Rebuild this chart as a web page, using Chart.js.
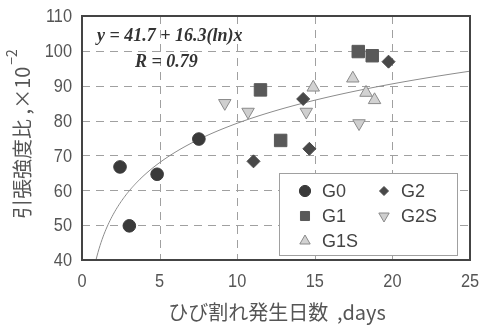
<!DOCTYPE html>
<html>
<head>
<meta charset="utf-8">
<script src="https://cdn.jsdelivr.net/npm/chart.js@4.4.0/dist/chart.umd.min.js"></script>
<style>
  html, body { margin: 0; padding: 0; background: #fff; }
  #wrap { width: 492px; height: 325px; }
</style>
</head>
<body>
<div id="wrap"><canvas id="myChart"></canvas></div>
<script>
// data
const g0X = [2.45, 3.05, 4.84, 7.53];
const g0Y = [66.7, 49.8, 64.6, 74.7];
const g1X = [11.5, 12.8, 17.8, 18.7];
const g1Y = [88.8, 74.3, 99.8, 98.6];
const g1sX = [14.9, 17.45, 18.3, 18.85];
const g1sY = [89.5, 92.1, 88.0, 85.9];
const g2X = [11.05, 14.25, 14.65, 19.75];
const g2Y = [68.3, 86.2, 71.9, 96.9];
const g2sX = [9.2, 10.7, 14.45, 17.85];
const g2sY = [85.0, 82.5, 82.5, 79.2];

// regression shown on the chart: y = a + b ln x
const fitA = 41.7;
const fitB = 16.3;

const xTicks = [0, 5, 10, 15, 20, 25];
const yTicks = [40, 50, 60, 70, 80, 90, 100, 110];

const toPts = (xs, ys) => xs.map((x, i) => ({ x: x, y: ys[i] }));

const data = {
  datasets: [
    { label: "G0", data: toPts(g0X, g0Y), pointStyle: "circle", pointRadius: 6.3, backgroundColor: "#3a3a3a", borderColor: "#3a3a3a", borderWidth: 1 },
    { label: "G1", data: toPts(g1X, g1Y), pointStyle: "rect", pointRadius: 8.8, backgroundColor: "#595959", borderColor: "#595959", borderWidth: 1 },
    { label: "G1S", data: toPts(g1sX, g1sY), pointStyle: "triangle", pointRadius: 7.2, backgroundColor: "#d2d2d2", borderColor: "#8a8a8a", borderWidth: 1 },
    { label: "G2", data: toPts(g2X, g2Y), pointStyle: "rectRot", pointRadius: 6.5, backgroundColor: "#484848", borderColor: "#484848", borderWidth: 1 },
    { label: "G2S", data: toPts(g2sX, g2sY), pointStyle: "triangle", rotation: 180, pointRadius: 7.2, backgroundColor: "#cfcfcf", borderColor: "#8a8a8a", borderWidth: 1 },
  ],
};

// narrow tick text, like the original's condensed digits
function narrowText(ctx, txt, x, y, align) {
  const sx = 0.86;
  const w = ctx.measureText(txt).width * sx;
  let left = x;
  if (align === "right") left = x - w;
  else if (align === "center") left = x - w / 2;
  ctx.save();
  ctx.translate(left, y);
  ctx.scale(sx, 1);
  ctx.textAlign = "left";
  ctx.fillText(txt, 0, 0);
  ctx.restore();
}

// grid, fit curve, frame, ticks, text and legend
const extras = {
  id: "extras",
  beforeDatasetsDraw(chart) {
    const ctx = chart.ctx;
    const xs = chart.scales.x, ys = chart.scales.y;
    const a = chart.chartArea;
    ctx.save();
    // dashed grid
    ctx.strokeStyle = "#a0a0a0";
    ctx.lineWidth = 1;
    ctx.setLineDash([8, 6]);
    xTicks.slice(1, -1).forEach((v) => {
      const px = Math.round(xs.getPixelForValue(v)) + 0.5;
      ctx.beginPath();
      ctx.moveTo(px, a.top);
      ctx.lineTo(px, a.bottom);
      ctx.stroke();
    });
    yTicks.slice(1, -1).forEach((v) => {
      const py = Math.round(ys.getPixelForValue(v)) + 0.5;
      ctx.beginPath();
      ctx.moveTo(a.left, py);
      ctx.lineTo(a.right, py);
      ctx.stroke();
    });
    ctx.setLineDash([]);

    // tick labels
    ctx.fillStyle = "#555";
    ctx.font = "19px 'Liberation Sans', Arial, sans-serif";
    ctx.textBaseline = "middle";
    yTicks.forEach((v) => narrowText(ctx, String(v), 72, ys.getPixelForValue(v) + 1, "right"));
    xTicks.forEach((v) => narrowText(ctx, String(v), xs.getPixelForValue(v), 282, "center"));

    ctx.beginPath();
    ctx.rect(a.left, a.top, a.right - a.left, a.bottom - a.top);
    ctx.clip();
    ctx.strokeStyle = "#8c8c8c";
    ctx.beginPath();
    let first = true;
    for (let px = a.left; px <= a.right; px += 1) {
      const xv = xs.getValueForPixel(px);
      if (xv <= 0) continue;
      const yv = fitA + fitB * Math.log(xv);
      const py = ys.getPixelForValue(yv);
      if (first) { ctx.moveTo(px, py); first = false; } else ctx.lineTo(px, py);
    }
    ctx.stroke();
    ctx.restore();

    ctx.save();
    ctx.strokeStyle = "#444";
    ctx.lineWidth = 2;
    ctx.strokeRect(a.left, a.top, a.right - a.left, a.bottom - a.top);
    ctx.restore();
  },
  afterDatasetsDraw(chart) {
    const ctx = chart.ctx;
    ctx.save();
    // equation
    ctx.fillStyle = "#333";
    ctx.font = "italic bold 18px 'Liberation Serif', serif";
    ctx.textBaseline = "middle";
    ctx.textAlign = "left";
    ctx.fillText("y = 41.7 + 16.3(ln)x", 97, 36);
    ctx.fillText("R = 0.79", 135, 62);

    // legend
    ctx.fillStyle = "#fff";
    ctx.fillRect(279, 173, 178, 82);
    ctx.strokeStyle = "#a0a0a0";
    ctx.lineWidth = 1;
    ctx.strokeRect(279.5, 173.5, 178, 82);
    const spots = [
      [0, 305, 191, 5.6], [1, 305, 216, 6.4], [2, 305, 241, 6],
      [3, 384, 191, 4.5], [4, 384, 216, 6],
    ];
    ctx.font = "18px 'Liberation Sans', Arial, sans-serif";
    spots.forEach(([di, px, py, r]) => {
      const ds = chart.data.datasets[di];
      ctx.fillStyle = ds.backgroundColor;
      ctx.strokeStyle = ds.borderColor;
      ctx.lineWidth = 1;
      Chart.helpers.drawPoint(ctx, { pointStyle: ds.pointStyle, rotation: ds.rotation || 0, radius: r, borderWidth: 1 }, px, py);
      ctx.fillStyle = "#444";
      ctx.fillText(ds.label, px + 17, py + 1);
    });

    // axis titles
    ctx.fillStyle = "#555";
    ctx.textAlign = "center";
    ctx.font = "20px 'Noto Sans CJK JP', sans-serif";
    ctx.fillText("ひび割れ発生日数  ,days", 277, 312);

    ctx.translate(22, 135);
    ctx.rotate(-Math.PI / 2);
    ctx.textAlign = "left";
    const main = "引張強度比 ,×10";
    const w = ctx.measureText(main).width;
    ctx.font = "14px 'Noto Sans CJK JP', sans-serif";
    const sup = "−2";
    const ws = ctx.measureText(sup).width;
    const start = -(w + ws) / 2;
    ctx.font = "20px 'Noto Sans CJK JP', sans-serif";
    ctx.fillText(main, start, 0);
    ctx.font = "14px 'Noto Sans CJK JP', sans-serif";
    ctx.fillText(sup, start + w + 2, -10);
    ctx.restore();
  },
};

const config = {
  type: "scatter",
  data: data,
  options: {
    maintainAspectRatio: false,
    responsive: true,
    animation: false,
    layout: { padding: { top: 16, right: 22, bottom: 0, left: 0 } },
    plugins: { legend: { display: false }, tooltip: { enabled: false } },
    scales: {
      x: {
        min: 0, max: 25,
        afterBuildTicks: (s) => { s.ticks = xTicks.map((v) => ({ value: v })); },
        afterFit: (s) => { s.height = 65; },
        ticks: { display: false },
        grid: { display: false },
        border: { display: false },
      },
      y: {
        min: 40, max: 110,
        afterBuildTicks: (s) => { s.ticks = yTicks.map((v) => ({ value: v })); },
        afterFit: (s) => { s.width = 82; },
        ticks: { display: false },
        grid: { display: false },
        border: { display: false },
      },
    },
  },
  plugins: [extras],
};

const myChart = new Chart(document.getElementById("myChart"), config);
</script>
</body>
</html>
